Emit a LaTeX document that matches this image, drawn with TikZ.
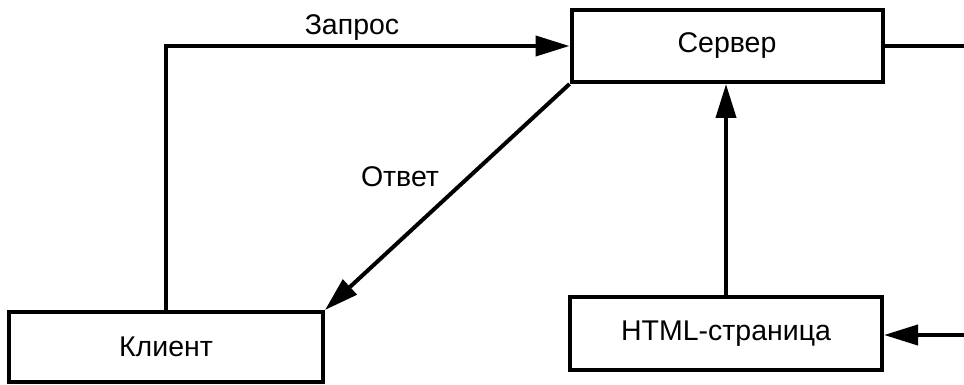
\documentclass[tikz,border=0pt]{standalone}
\usepackage{fontspec}
\setmainfont{Liberation Sans}
\usetikzlibrary{arrows.meta}
\tikzset{
  box/.style={draw, line width=4pt, minimum width=#1, minimum height=72pt, inner sep=0pt, font=\fontsize{28.5}{34}\selectfont},
  link/.style={line width=4pt},
  arr/.style={link, -{Triangle[length=34pt,width=20pt]}},
  lbl/.style={font=\fontsize{28.5}{34}\selectfont, inner sep=0pt}
}
\begin{document}
\begin{tikzpicture}[x=1pt,y=-1pt]
\useasboundingbox (0,0) rectangle (964,385);
\node[box=311pt] (server) at (727,46) {Сервер};
\node[box=314pt, minimum height=70pt] (client) at (166,347) {Клиент};
\node[box=312pt, minimum height=73pt] (html) at (726,333.5) {HTML-страница};
\coordinate (outR) at (966,46);
\coordinate (inR) at (966,335);
% request: up from the client, across to the server
\draw[arr] (client.north) |- (server.west);
\node[lbl] (req) at (352,28) {Запрос};
% response: diagonal from the server down to the client
\draw[arr] (server.south west) -- (client.north east);
\node[lbl] (resp) at (400,177) {Ответ};
% page fed into the server
\draw[arr] (html.north) -- (html.north |- server.south);
% outgoing and incoming lines at the right edge
\draw[link] (server.east) -- (outR);
\draw[arr] (inR) -- (inR -| html.east);
\end{tikzpicture}
\end{document}
